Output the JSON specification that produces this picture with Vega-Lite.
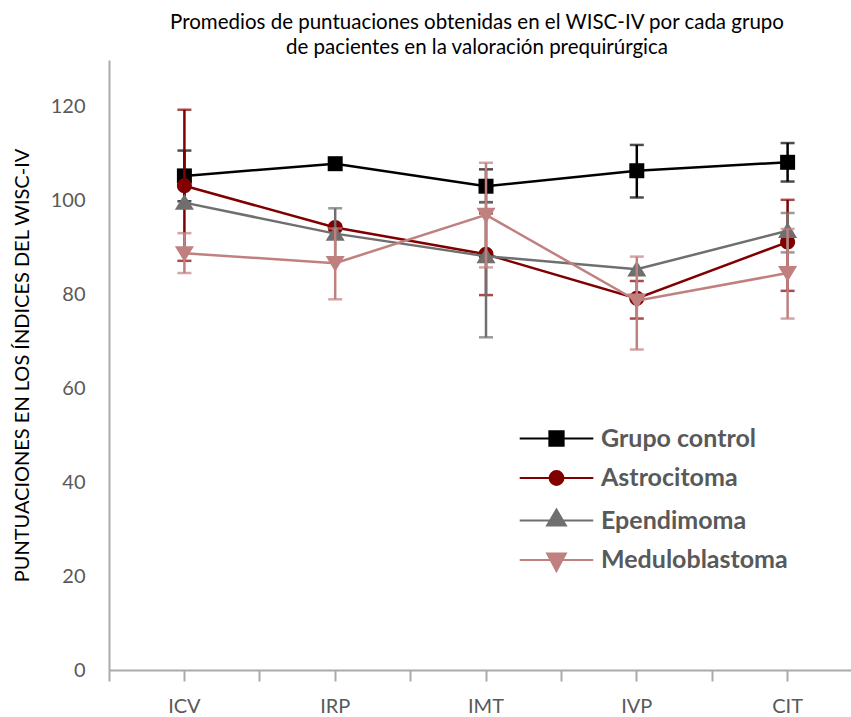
{
  "$schema": "https://vega.github.io/schema/vega-lite/v6.json",
  "width": 754,
  "height": 610,
  "autosize": {"type": "none"},
  "padding": {"left": 109, "top": 60, "right": -12, "bottom": 47},
  "background": "white",
  "config": {
    "font": "Lato",
    "view": {"stroke": null},
    "axisY": {"domainColor": "#aaaaaa", "domainWidth": 2, "ticks": false, "grid": false, "labelFontSize": 20, "labelColor": "#595959", "labelPadding": 24, "titleFontSize": 20, "titleFontWeight": "normal", "titleColor": "#000000", "titlePadding": 18},
    "axisX": {"grid": false}
  },
  "title": {
    "text": ["Promedios de puntuaciones obtenidas en el WISC-IV por cada grupo", "de pacientes en la valoración prequirúrgica"],
    "fontSize": 20.5, "fontWeight": "normal", "color": "#000000", "lineHeight": 25, "anchor": "middle", "dx": -9, "offset": 2
  },
  "data": {"values": [
    {"serie": "Grupo control", "indice": "ICV", "media": 105.3, "inf": 99.9, "sup": 110.7},
    {"serie": "Grupo control", "indice": "IRP", "media": 107.9, "inf": null, "sup": null},
    {"serie": "Grupo control", "indice": "IMT", "media": 103.1, "inf": 99.7, "sup": 106.7},
    {"serie": "Grupo control", "indice": "IVP", "media": 106.4, "inf": 100.7, "sup": 111.9},
    {"serie": "Grupo control", "indice": "CIT", "media": 108.2, "inf": 104.1, "sup": 112.3},
    {"serie": "Astrocitoma", "indice": "ICV", "media": 103.2, "inf": 87.2, "sup": 119.4},
    {"serie": "Astrocitoma", "indice": "IRP", "media": 94.3, "inf": null, "sup": null},
    {"serie": "Astrocitoma", "indice": "IMT", "media": 88.6, "inf": 79.9, "sup": 97.3},
    {"serie": "Astrocitoma", "indice": "IVP", "media": 79.2, "inf": 74.9, "sup": 82.9},
    {"serie": "Astrocitoma", "indice": "CIT", "media": 91.2, "inf": 80.8, "sup": 100.2},
    {"serie": "Ependimoma", "indice": "ICV", "media": 99.6, "inf": null, "sup": null},
    {"serie": "Ependimoma", "indice": "IRP", "media": 93.0, "inf": 87.6, "sup": 98.4},
    {"serie": "Ependimoma", "indice": "IMT", "media": 88.2, "inf": 70.9, "sup": 99.7},
    {"serie": "Ependimoma", "indice": "IVP", "media": 85.4, "inf": null, "sup": null},
    {"serie": "Ependimoma", "indice": "CIT", "media": 93.6, "inf": 89.0, "sup": 97.4},
    {"serie": "Meduloblastoma", "indice": "ICV", "media": 88.8, "inf": 84.6, "sup": 93.1},
    {"serie": "Meduloblastoma", "indice": "IRP", "media": 86.7, "inf": 79.0, "sup": 94.1},
    {"serie": "Meduloblastoma", "indice": "IMT", "media": 97.0, "inf": 85.8, "sup": 108.1},
    {"serie": "Meduloblastoma", "indice": "IVP", "media": 78.7, "inf": 68.3, "sup": 88.1},
    {"serie": "Meduloblastoma", "indice": "CIT", "media": 84.6, "inf": 74.9, "sup": 94.0}
  ]},
  "resolve": {"axis": {"x": "independent"}},
  "layer": [
    {
      "encoding": {
        "x": {"field": "indice", "type": "nominal", "sort": ["ICV", "IRP", "IMT", "IVP", "CIT"], "scale": {"type": "band", "paddingInner": 0, "paddingOuter": 0},
          "axis": {"orient": "bottom", "title": null, "labelAngle": 0, "labelFontSize": 20, "labelColor": "#595959", "labelPadding": 15, "tickSize": 11, "tickColor": "#aaaaaa", "tickWidth": 2, "domainColor": "#aaaaaa", "domainWidth": 2}},
        "color": {"field": "serie", "type": "nominal", "legend": null,
          "scale": {"domain": ["Grupo control", "Astrocitoma", "Ependimoma", "Meduloblastoma"], "range": ["#000000", "#800000", "#6f6f6f", "#c08080"]}}
      },
      "layer": [
        {"mark": {"type": "point", "opacity": 0, "filled": false, "strokeWidth": 2.5},
          "encoding": {
            "y": {"field": "media", "type": "quantitative", "scale": {"domain": [0, 130], "nice": false}, "axis": {"values": [0, 20, 40, 60, 80, 100, 120]}, "title": "PUNTUACIONES EN LOS ÍNDICES DEL WISC-IV"},
            "fill": {"field": "serie", "type": "nominal", "scale": {"domain": ["Grupo control", "Astrocitoma", "Ependimoma", "Meduloblastoma"], "range": ["#000000", "#800000", "#6f6f6f", "#c08080"]},
              "legend": {"orient": "none", "legendX": 435, "legendY": 366, "title": null, "padding": 0, "labelFont": "Lato", "labelFontSize": 25, "labelFontWeight": "bold", "labelColor": "#595959", "labelOffset": 32, "labelLimit": 400, "symbolSize": 256, "rowPadding": 13.5, "symbolStrokeWidth": 2.2, "symbolOpacity": 1}},
            "stroke": {"field": "serie", "type": "nominal", "scale": {"domain": ["Grupo control", "Astrocitoma", "Ependimoma", "Meduloblastoma"], "range": ["#000000", "#800000", "#6f6f6f", "#c08080"]},
              "legend": {"orient": "none", "legendX": 435, "legendY": 366, "title": null, "padding": 0, "labelFont": "Lato", "labelFontSize": 25, "labelFontWeight": "bold", "labelColor": "#595959", "labelOffset": 32, "labelLimit": 400, "symbolSize": 256, "rowPadding": 13.5, "symbolStrokeWidth": 2.2, "symbolOpacity": 1}},
            "shape": {"field": "serie", "type": "nominal", "scale": {"domain": ["Grupo control", "Astrocitoma", "Ependimoma", "Meduloblastoma"], "range": ["M-4.6,0H4.6M-0.88,-0.88H0.88V0.88H-0.88Z", "M-4.6,0H4.6M0.85,0A0.85,0.85,0,1,1,-0.85,0A0.85,0.85,0,1,1,0.85,0Z", "M-4.6,0H4.6M0,-1.35L1.15,0.6L-1.15,0.6Z", "M-4.6,0H4.6M0,1.35L1.15,-0.8L-1.15,-0.8Z"]},
              "legend": {"orient": "none", "legendX": 435, "legendY": 366, "title": null, "padding": 0, "labelFont": "Lato", "labelFontSize": 25, "labelFontWeight": "bold", "labelColor": "#595959", "labelOffset": 32, "labelLimit": 400, "symbolSize": 256, "rowPadding": 13.5, "symbolStrokeWidth": 2.2, "symbolOpacity": 1}}
          }},
        {"transform": [{"filter": "datum.serie === 'Grupo control'"}], "layer": [
          {"mark": {"type": "rule", "strokeWidth": 2.5}, "encoding": {"y": {"field": "inf", "type": "quantitative", "scale": {"domain": [0, 130], "nice": false}, "axis": {"values": [0, 20, 40, 60, 80, 100, 120]}, "title": "PUNTUACIONES EN LOS ÍNDICES DEL WISC-IV"}, "y2": {"field": "sup"}}},
          {"mark": {"type": "tick", "size": 14, "thickness": 2.5, "orient": "horizontal"}, "encoding": {"y": {"field": "inf", "type": "quantitative", "scale": {"domain": [0, 130], "nice": false}, "axis": {"values": [0, 20, 40, 60, 80, 100, 120]}, "title": "PUNTUACIONES EN LOS ÍNDICES DEL WISC-IV"}}},
          {"mark": {"type": "tick", "size": 14, "thickness": 2.5, "orient": "horizontal"}, "encoding": {"y": {"field": "sup", "type": "quantitative", "scale": {"domain": [0, 130], "nice": false}, "axis": {"values": [0, 20, 40, 60, 80, 100, 120]}, "title": "PUNTUACIONES EN LOS ÍNDICES DEL WISC-IV"}}},
          {"mark": {"type": "line", "strokeWidth": 2.5}, "encoding": {"y": {"field": "media", "type": "quantitative", "scale": {"domain": [0, 130], "nice": false}, "axis": {"values": [0, 20, 40, 60, 80, 100, 120]}, "title": "PUNTUACIONES EN LOS ÍNDICES DEL WISC-IV"}, "order": {"value": null}}},
          {"mark": {"type": "point", "filled": true, "opacity": 1, "size": 225, "shape": "M-1,-1H1V1H-1Z"}, "encoding": {"y": {"field": "media", "type": "quantitative", "scale": {"domain": [0, 130], "nice": false}, "axis": {"values": [0, 20, 40, 60, 80, 100, 120]}, "title": "PUNTUACIONES EN LOS ÍNDICES DEL WISC-IV"}}}
        ]},
        {"transform": [{"filter": "datum.serie === 'Astrocitoma'"}], "layer": [
          {"mark": {"type": "rule", "strokeWidth": 2.5}, "encoding": {"y": {"field": "inf", "type": "quantitative", "scale": {"domain": [0, 130], "nice": false}, "axis": {"values": [0, 20, 40, 60, 80, 100, 120]}, "title": "PUNTUACIONES EN LOS ÍNDICES DEL WISC-IV"}, "y2": {"field": "sup"}}},
          {"mark": {"type": "tick", "size": 14, "thickness": 2.5, "orient": "horizontal"}, "encoding": {"y": {"field": "inf", "type": "quantitative", "scale": {"domain": [0, 130], "nice": false}, "axis": {"values": [0, 20, 40, 60, 80, 100, 120]}, "title": "PUNTUACIONES EN LOS ÍNDICES DEL WISC-IV"}}},
          {"mark": {"type": "tick", "size": 14, "thickness": 2.5, "orient": "horizontal"}, "encoding": {"y": {"field": "sup", "type": "quantitative", "scale": {"domain": [0, 130], "nice": false}, "axis": {"values": [0, 20, 40, 60, 80, 100, 120]}, "title": "PUNTUACIONES EN LOS ÍNDICES DEL WISC-IV"}}},
          {"mark": {"type": "line", "strokeWidth": 2.5}, "encoding": {"y": {"field": "media", "type": "quantitative", "scale": {"domain": [0, 130], "nice": false}, "axis": {"values": [0, 20, 40, 60, 80, 100, 120]}, "title": "PUNTUACIONES EN LOS ÍNDICES DEL WISC-IV"}, "order": {"value": null}}},
          {"mark": {"type": "point", "filled": true, "opacity": 1, "size": 225, "shape": "M1,0A1,1,0,1,1,-1,0A1,1,0,1,1,1,0Z"}, "encoding": {"y": {"field": "media", "type": "quantitative", "scale": {"domain": [0, 130], "nice": false}, "axis": {"values": [0, 20, 40, 60, 80, 100, 120]}, "title": "PUNTUACIONES EN LOS ÍNDICES DEL WISC-IV"}}}
        ]},
        {"transform": [{"filter": "datum.serie === 'Ependimoma'"}], "layer": [
          {"mark": {"type": "rule", "strokeWidth": 2.5}, "encoding": {"y": {"field": "inf", "type": "quantitative", "scale": {"domain": [0, 130], "nice": false}, "axis": {"values": [0, 20, 40, 60, 80, 100, 120]}, "title": "PUNTUACIONES EN LOS ÍNDICES DEL WISC-IV"}, "y2": {"field": "sup"}}},
          {"mark": {"type": "tick", "size": 14, "thickness": 2.5, "orient": "horizontal"}, "encoding": {"y": {"field": "inf", "type": "quantitative", "scale": {"domain": [0, 130], "nice": false}, "axis": {"values": [0, 20, 40, 60, 80, 100, 120]}, "title": "PUNTUACIONES EN LOS ÍNDICES DEL WISC-IV"}}},
          {"mark": {"type": "tick", "size": 14, "thickness": 2.5, "orient": "horizontal"}, "encoding": {"y": {"field": "sup", "type": "quantitative", "scale": {"domain": [0, 130], "nice": false}, "axis": {"values": [0, 20, 40, 60, 80, 100, 120]}, "title": "PUNTUACIONES EN LOS ÍNDICES DEL WISC-IV"}}},
          {"mark": {"type": "line", "strokeWidth": 2.5}, "encoding": {"y": {"field": "media", "type": "quantitative", "scale": {"domain": [0, 130], "nice": false}, "axis": {"values": [0, 20, 40, 60, 80, 100, 120]}, "title": "PUNTUACIONES EN LOS ÍNDICES DEL WISC-IV"}, "order": {"value": null}}},
          {"mark": {"type": "point", "filled": true, "opacity": 1, "size": 225, "shape": "M0,-1.15L1.27,0.95L-1.27,0.95Z"}, "encoding": {"y": {"field": "media", "type": "quantitative", "scale": {"domain": [0, 130], "nice": false}, "axis": {"values": [0, 20, 40, 60, 80, 100, 120]}, "title": "PUNTUACIONES EN LOS ÍNDICES DEL WISC-IV"}}}
        ]},
        {"transform": [{"filter": "datum.serie === 'Meduloblastoma'"}], "layer": [
          {"mark": {"type": "rule", "strokeWidth": 2.5}, "encoding": {"y": {"field": "inf", "type": "quantitative", "scale": {"domain": [0, 130], "nice": false}, "axis": {"values": [0, 20, 40, 60, 80, 100, 120]}, "title": "PUNTUACIONES EN LOS ÍNDICES DEL WISC-IV"}, "y2": {"field": "sup"}}},
          {"mark": {"type": "tick", "size": 14, "thickness": 2.5, "orient": "horizontal"}, "encoding": {"y": {"field": "inf", "type": "quantitative", "scale": {"domain": [0, 130], "nice": false}, "axis": {"values": [0, 20, 40, 60, 80, 100, 120]}, "title": "PUNTUACIONES EN LOS ÍNDICES DEL WISC-IV"}}},
          {"mark": {"type": "tick", "size": 14, "thickness": 2.5, "orient": "horizontal"}, "encoding": {"y": {"field": "sup", "type": "quantitative", "scale": {"domain": [0, 130], "nice": false}, "axis": {"values": [0, 20, 40, 60, 80, 100, 120]}, "title": "PUNTUACIONES EN LOS ÍNDICES DEL WISC-IV"}}},
          {"mark": {"type": "line", "strokeWidth": 2.5}, "encoding": {"y": {"field": "media", "type": "quantitative", "scale": {"domain": [0, 130], "nice": false}, "axis": {"values": [0, 20, 40, 60, 80, 100, 120]}, "title": "PUNTUACIONES EN LOS ÍNDICES DEL WISC-IV"}, "order": {"value": null}}},
          {"mark": {"type": "point", "filled": true, "opacity": 1, "size": 225, "shape": "M0,1.15L1.27,-0.95L-1.27,-0.95Z"}, "encoding": {"y": {"field": "media", "type": "quantitative", "scale": {"domain": [0, 130], "nice": false}, "axis": {"values": [0, 20, 40, 60, 80, 100, 120]}, "title": "PUNTUACIONES EN LOS ÍNDICES DEL WISC-IV"}}}
        ]}
      ]
    },
    {
      "mark": {"type": "point", "opacity": 0},
      "encoding": {
        "x": {"field": "indice", "type": "nominal", "sort": ["ICV", "IRP", "IMT", "IVP", "CIT"], "scale": {"type": "band", "paddingInner": 0, "paddingOuter": 0},
          "axis": {"orient": "bottom", "title": null, "bandPosition": 0, "labels": false, "domain": false, "tickSize": 11, "tickColor": "#aaaaaa", "tickWidth": 2}}
      }
    }
  ]
}
